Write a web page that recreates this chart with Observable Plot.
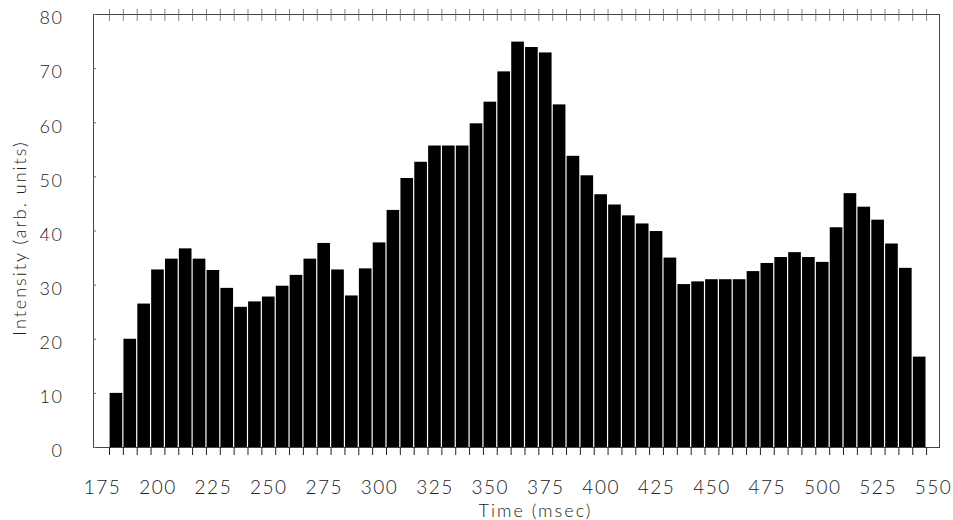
<!DOCTYPE html>
<html><head><meta charset="utf-8">
<script src="https://cdn.jsdelivr.net/npm/d3@7"></script>
<script src="https://cdn.jsdelivr.net/npm/@observablehq/plot@0.6"></script>
<style>
body{margin:0;background:#fff;}
#chart svg{font-family:Lato,"DejaVu Sans",sans-serif;}
#chart svg text{letter-spacing:1.5px;font-weight:300;}
#chart svg .title text{letter-spacing:2px;}
</style></head><body><div id="chart"></div>
<script>
// Bin start times (msec); each bin is 6.25 msec wide
const binStart = [178.125,184.375,190.625,196.875,203.125,209.375,215.625,221.875,228.125,234.375,
  240.625,246.875,253.125,259.375,265.625,271.875,278.125,284.375,290.625,296.875,
  303.125,309.375,315.625,321.875,328.125,334.375,340.625,346.875,353.125,359.375,
  365.625,371.875,378.125,384.375,390.625,396.875,403.125,409.375,415.625,421.875,
  428.125,434.375,440.625,446.875,453.125,459.375,465.625,471.875,478.125,484.375,
  490.625,496.875,503.125,509.375,515.625,521.875,528.125,534.375,540.625];
const binWidth = 6.25;
// Intensity (arb. units)
const intensity = [10,20,26.5,32.8,34.8,36.7,34.8,32.7,29.4,25.9,
  26.9,27.8,29.8,31.8,34.8,37.7,32.8,28,33,37.8,
  43.8,49.7,52.7,55.7,55.7,55.7,59.8,63.8,69.4,74.9,
  73.9,72.9,63.3,53.8,50.2,46.7,44.8,42.8,41.3,39.9,
  35,30.1,30.6,31,31,31,32.5,34,35.1,36,
  35.1,34.2,40.6,46.9,44.4,42,37.6,33.1,16.7];
const xTickValues = [175,200,225,250,275,300,325,350,375,400,425,450,475,500,525,550];
const yTickValues = [0,10,20,30,40,50,60,70,80];

const bins = binStart.map((t, i) => ({t0: t, t1: t + binWidth, v: intensity[i]}));
const edges = [...binStart, binStart[binStart.length - 1] + binWidth];

const chart = Plot.plot({
  width: 953, height: 520,
  marginLeft: 93, marginRight: 14, marginTop: 14, marginBottom: 73,
  x: {domain: [170.9, 552.7]},
  y: {domain: [0, 80]},
  marks: [
    Plot.rectY(bins, {x1: "t0", x2: "t1", y: "v", fill: "#000", insetLeft: 0.6, insetRight: 0.6}),
    Plot.frame({stroke: "#444", strokeWidth: 1}),
    Plot.axisX({ticks: edges, tickSize: 8, tickFormat: () => "", stroke: "#222", label: null}),
    Plot.axisX({anchor: "top", ticks: edges, tickSize: 12, dy: 6, tickFormat: () => "", stroke: "#666", strokeWidth: 0.8, label: null}),
    Plot.axisX({ticks: xTickValues, tickSize: 0, tickPadding: 33, fontSize: 19, fill: "#222", label: null}),
    Plot.axisY({ticks: yTickValues, tickSize: 3, dx: 3, tickFormat: () => "", stroke: "#666", label: null}),
    Plot.axisY({ticks: yTickValues, tickSize: 0, tickPadding: 30, dy: 4, fontSize: 18, fill: "#222", label: null}),
    Plot.text(["Time (msec)"], {frameAnchor: "bottom", textAnchor: "middle", lineAnchor: "middle", dx: 19, dy: 64, fontSize: 18, fill: "#222", className: "title"}),
    Plot.text(["Intensity (arb. units)"], {frameAnchor: "left", textAnchor: "middle", lineAnchor: "middle", dx: -73, dy: 7, rotate: -90, fontSize: 18, fill: "#222", className: "title"})
  ]
});
document.getElementById("chart").append(chart);
</script></body></html>
